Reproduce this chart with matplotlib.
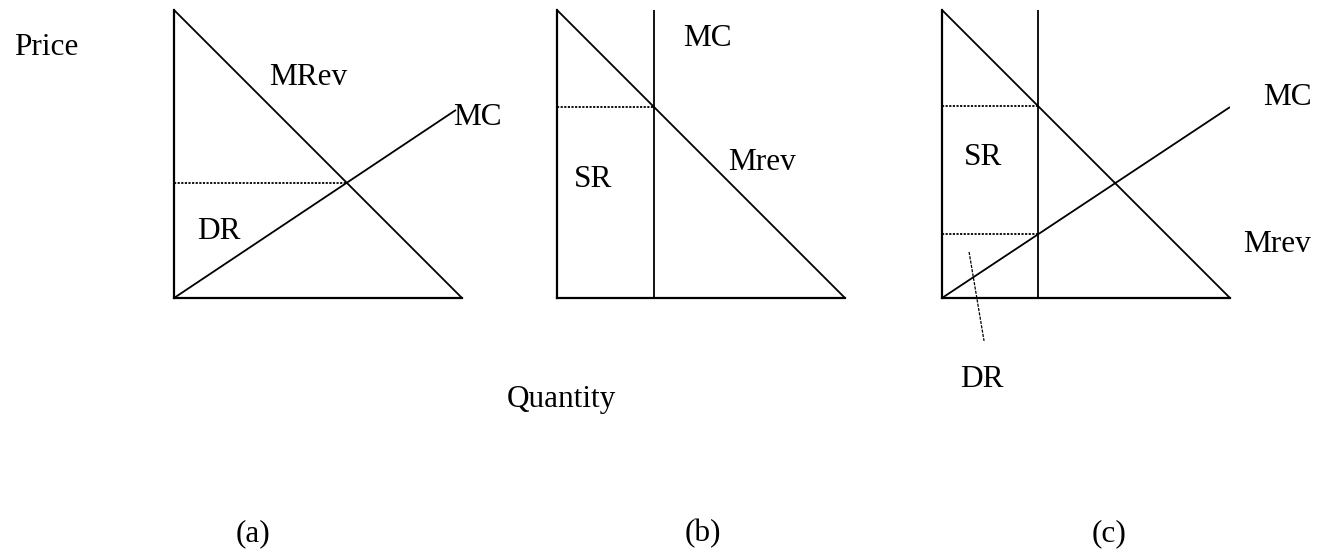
"""Three price/quantity sketches: MRev vs MC with DR / SR regions."""
import numpy as np
import matplotlib
matplotlib.use("Agg")
import matplotlib.pyplot as plt

plt.rcParams.update({
    "font.family": ["Liberation Serif", "DejaVu Serif"],
    "font.size": 22.5,
})

# Demand / marginal revenue line (same in every panel), quantity & price on 0..1
DEMAND_Q = [0.0, 1.0]
DEMAND_P = [1.0, 0.0]

# (a) upward sloping MC
A_MC_Q = [0.0, 0.979]
A_MC_P = [0.0, 0.653]

# (b) vertical MC (capacity limit)
B_CAP_Q = 0.337

# (c) upward MC plus capacity limit
C_MC_Q = [0.0, 1.0]
C_MC_P = [0.0, 0.663]
C_CAP_Q = 0.333
C_DR_PTR_Q = [0.094, 0.146]
C_DR_PTR_P = [0.160, -0.149]

PANEL_LEFT_PX = [174, 557, 942]
PANEL_TOP_PX = 10
PANEL_BOTTOM_PX = 298
PANEL_SIZE_PX = 288
W, H = 1322, 553

SOLID = dict(color="black", lw=1.3, solid_capstyle="butt")
DOTTED = dict(color="black", lw=1.3, linestyle=(0, (1.2, 0.8)))


def make_panel(fig, left_px):
    ax = fig.add_axes([left_px / W, (H - PANEL_BOTTOM_PX) / H,
                       PANEL_SIZE_PX / W, PANEL_SIZE_PX / H])
    ax.set_xlim(0, 1)
    ax.set_ylim(0, 1)
    for side in ("top", "right"):
        ax.spines[side].set_visible(False)
    for side in ("left", "bottom"):
        ax.spines[side].set_linewidth(1.6)
    ax.set_xticks([])
    ax.set_yticks([])
    ax.patch.set_alpha(0)
    return ax


def label(ax, q, p, s):
    ax.text(q, p, s, ha="center", va="baseline", clip_on=False)


fig = plt.figure(figsize=(W / 100, H / 100), dpi=100)

# ---- (a)
ax = make_panel(fig, PANEL_LEFT_PX[0])
ax.plot(DEMAND_Q, DEMAND_P, **SOLID)
ax.plot(A_MC_Q, A_MC_P, **SOLID)
slope_a = A_MC_P[1] / A_MC_Q[1]
q_star = 1.0 / (1.0 + slope_a)
ax.plot([0, q_star], [slope_a * q_star] * 2, **DOTTED)
label(ax, 0.465, 0.740, "MRev")
label(ax, 1.052, 0.601, "MC")
label(ax, 0.156, 0.205, "DR")
label(ax, -0.444, 0.844, "Price")
label(ax, 1.344, -0.378, "Quantity")
label(ax, 0.274, -0.844, "(a)")

# ---- (b)
ax = make_panel(fig, PANEL_LEFT_PX[1])
ax.plot(DEMAND_Q, DEMAND_P, **SOLID)
ax.plot([B_CAP_Q, B_CAP_Q], [0, 1], **SOLID)
ax.plot([0, B_CAP_Q], [1 - B_CAP_Q] * 2, **DOTTED)
label(ax, 0.521, 0.875, "MC")
label(ax, 0.712, 0.444, "Mrev")
label(ax, 0.125, 0.385, "SR")
label(ax, 0.507, -0.844, "(b)")

# ---- (c)
ax = make_panel(fig, PANEL_LEFT_PX[2])
ax.plot(DEMAND_Q, DEMAND_P, **SOLID)
ax.plot(C_MC_Q, C_MC_P, **SOLID)
ax.plot([C_CAP_Q, C_CAP_Q], [0, 1], **SOLID)
slope_c = C_MC_P[1] / C_MC_Q[1]
ax.plot([0, C_CAP_Q], [1 - C_CAP_Q] * 2, **DOTTED)
ax.plot([0, C_CAP_Q], [slope_c * C_CAP_Q] * 2, **DOTTED)
ax.plot(C_DR_PTR_Q, C_DR_PTR_P, color="black", lw=0.9,
        linestyle=(0, (2.5, 1)), clip_on=False)
label(ax, 0.142, 0.462, "SR")
label(ax, 1.198, 0.670, "MC")
label(ax, 1.163, 0.160, "Mrev")
label(ax, 0.139, -0.309, "DR")
label(ax, 0.580, -0.844, "(c)")

fig.savefig("out.png", dpi=100)
